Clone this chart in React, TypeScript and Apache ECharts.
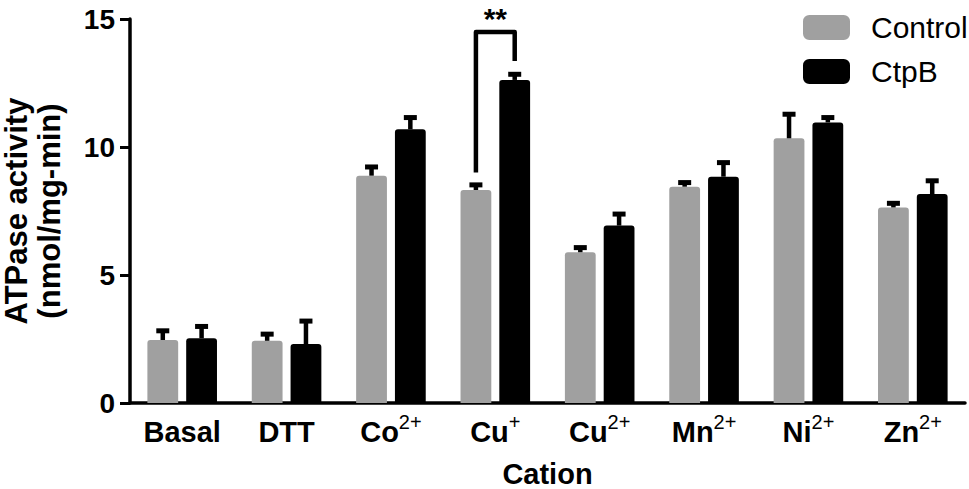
import React, { useEffect, useRef } from "react";
import * as echarts from "echarts";

const categories = ["Basal", "DTT", "Co2+", "Cu+", "Cu2+", "Mn2+", "Ni2+", "Zn2+"];
const controlValues = [2.46, 2.43, 8.88, 8.32, 5.89, 8.45, 10.34, 7.64];
const controlErrors = [0.36, 0.26, 0.34, 0.2, 0.18, 0.16, 0.94, 0.16];
const ctpbValues = [2.53, 2.3, 10.69, 12.62, 6.93, 8.84, 10.96, 8.16];
const ctpbErrors = [0.46, 0.9, 0.46, 0.22, 0.45, 0.55, 0.19, 0.52];
const yTicks = [0, 5, 10, 15];
// significance bracket: [category index, left foot, top, right foot]
const bracket = [[3, 9.0, 14.49, 13.36]];
const bracketLabel = "**";

const FONT = '"Liberation Sans", Arial, sans-serif';
const BAR_FRAC = 0.295;
const GAP_FRAC = 0.26;

function errorSeries(values: number[], errs: number[], sign: number) {
  return {
    type: "custom",
    silent: true,
    z: 5,
    data: values.map((v, i) => [i, v, errs[i]]),
    encode: { x: 0, y: 1 },
    renderItem: (params: any, api: any) => {
      const i = api.value(0);
      const v = api.value(1);
      const e = api.value(2);
      const band = api.size([1, 0])[0];
      const bw = band * BAR_FRAC;
      const gap = bw * GAP_FRAC;
      const off = (sign * (bw + gap)) / 2;
      const base = api.coord([i, v]);
      const top = api.coord([i, v + e]);
      const x = base[0] + off;
      return {
        type: "group",
        children: [
          { type: "line", shape: { x1: x, y1: base[1], x2: x, y2: top[1] }, style: { stroke: "#000", lineWidth: 4.5 } },
          { type: "line", shape: { x1: x - 6.5, y1: top[1], x2: x + 6.5, y2: top[1] }, style: { stroke: "#000", lineWidth: 5 } },
        ],
      };
    },
  };
}

export default function App() {
  const ref = useRef<HTMLDivElement>(null);
  useEffect(() => {
    if (!ref.current) return;
    const chart = echarts.init(ref.current, null, { renderer: "svg" });
    chart.setOption({
      animation: false,
      backgroundColor: "#fff",
      grid: { left: 130, right: 4, top: 19, bottom: 86, containLabel: false, outerBoundsMode: "none" },
      legend: {
        data: ["Control", "CtpB"],
        orient: "vertical",
        left: 798,
        top: 7,
        itemWidth: 47,
        itemHeight: 25,
        itemGap: 13,
        icon: "roundRect",
        selectedMode: false,
        textStyle: { fontFamily: FONT, fontSize: 30, color: "#000", lineHeight: 31, padding: [0, 0, 0, 16] },
      },
      xAxis: {
        type: "category",
        data: categories,
        name: "Cation",
        nameLocation: "middle",
        nameGap: 58,
        nameTextStyle: { fontFamily: FONT, fontSize: 29, fontWeight: "bold", color: "#000", lineHeight: 26 },
        axisLine: { lineStyle: { color: "#000", width: 3.5 } },
        axisTick: { alignWithLabel: true, length: 10, lineStyle: { color: "#000", width: 3 } },
        axisLabel: {
          margin: 9,
          interval: 0,
          formatter: (val: string) => {
            const m = val.match(/^([A-Za-z]+)(\d?[+-])$/);
            if (m) return `{b|${m[1]}}{s|${m[2]}}`;
            return `{b|${val}}`;
          },
          rich: {
            b: { fontFamily: FONT, fontSize: 29, fontWeight: "bold", color: "#000", lineHeight: 30, padding: [9, 0, 0, 0] },
            s: { fontFamily: FONT, fontSize: 20, color: "#000", lineHeight: 20, verticalAlign: "top" },
          },
        },
      },
      yAxis: {
        type: "value",
        min: 0,
        max: 15,
        interval: 5,
        name: "ATPase activity\n(nmol/mg-min)",
        nameLocation: "middle",
        nameGap: 64,
        nameRotate: 90,
        nameTextStyle: { fontFamily: FONT, fontSize: 31, fontWeight: "bold", color: "#000", lineHeight: 33 },
        splitLine: { show: false },
        axisLine: { show: true, lineStyle: { color: "#000", width: 3.5 } },
        axisTick: { show: true, length: 10, lineStyle: { color: "#000", width: 3 } },
        axisLabel: {
          margin: 15,
          fontFamily: FONT,
          fontSize: 28,
          fontWeight: "bold",
          color: "#000",
          formatter: (v: number) => (yTicks.includes(v) ? String(v) : ""),
        },
      },
      series: [
        {
          name: "Control",
          type: "bar",
          data: controlValues,
          barWidth: `${BAR_FRAC * 100}%`,
          barGap: `${GAP_FRAC * 100}%`,
          itemStyle: { color: "#a0a0a0", borderRadius: [3, 3, 0, 0] },
        },
        {
          name: "CtpB",
          type: "bar",
          data: ctpbValues,
          barWidth: `${BAR_FRAC * 100}%`,
          barGap: `${GAP_FRAC * 100}%`,
          itemStyle: { color: "#000", borderRadius: [3, 3, 0, 0] },
        },
        errorSeries(controlValues, controlErrors, -1),
        errorSeries(ctpbValues, ctpbErrors, 1),
        {
          type: "custom",
          silent: true,
          z: 6,
          data: bracket,
          encode: { x: 0, y: 2 },
          renderItem: (params: any, api: any) => {
            const i = api.value(0);
            const band = api.size([1, 0])[0];
            const bw = band * BAR_FRAC;
            const gap = bw * GAP_FRAC;
            const off = (bw + gap) / 2;
            const cx = api.coord([i, 0])[0];
            const yl = api.coord([i, api.value(1)])[1];
            const yt = api.coord([i, api.value(2)])[1];
            const yr = api.coord([i, api.value(3)])[1];
            return {
              type: "group",
              children: [
                {
                  type: "polyline",
                  shape: { points: [[cx - off, yl], [cx - off, yt], [cx + off, yt], [cx + off, yr]] },
                  style: { stroke: "#000", lineWidth: 4.5, fill: null, lineJoin: "round" },
                },
                {
                  type: "text",
                  style: {
                    text: bracketLabel,
                    x: cx,
                    y: yt - 14,
                    align: "center",
                    verticalAlign: "middle",
                    fontFamily: FONT,
                    fontSize: 30,
                    fontWeight: "bold",
                    fill: "#000",
                  },
                },
              ],
            };
          },
        },
      ],
    });
    return () => chart.dispose();
  }, []);
  return <div ref={ref} style={{ position: "fixed", left: 0, top: 0, width: 969, height: 489 }} />;
}
